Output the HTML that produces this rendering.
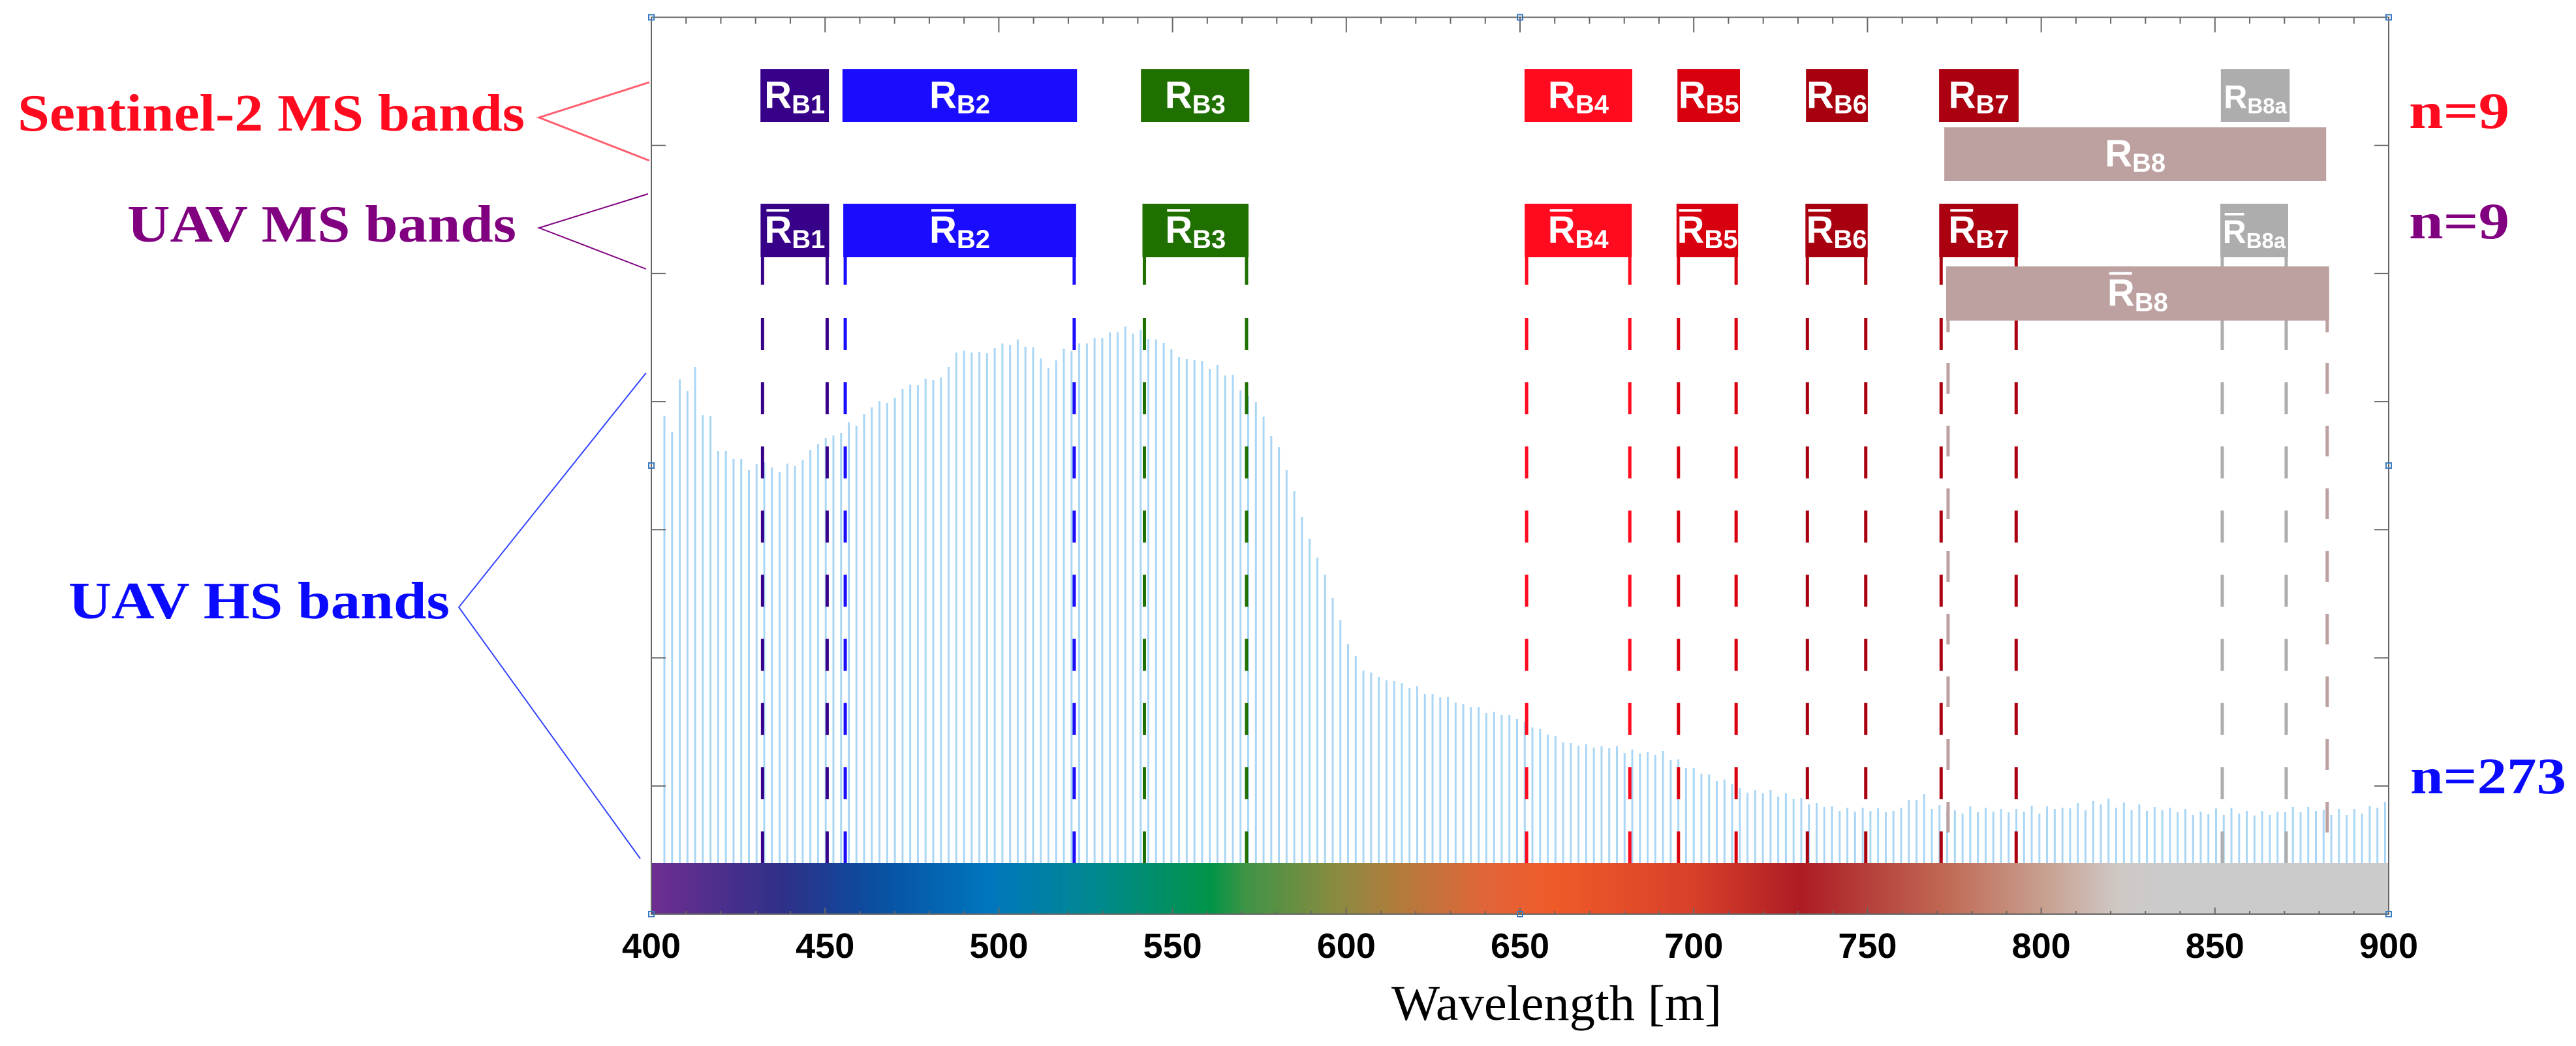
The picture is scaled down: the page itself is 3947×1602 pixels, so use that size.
<!DOCTYPE html>
<html><head><meta charset="utf-8">
<style>
html,body{margin:0;padding:0;background:#fff;}
svg{display:block;}
</style></head>
<body>
<svg id="chart" xmlns="http://www.w3.org/2000/svg" width="3947" height="1602" viewBox="0 0 3947 1602">
<defs>
<linearGradient id="spec" x1="0" x2="1" y1="0" y2="0">
<stop offset="0" stop-color="#6e2e91"/>
<stop offset="0.076" stop-color="#2e3088"/>
<stop offset="0.128" stop-color="#0a4ea0"/>
<stop offset="0.194" stop-color="#0076be"/>
<stop offset="0.254" stop-color="#008890"/>
<stop offset="0.322" stop-color="#009448"/>
<stop offset="0.342" stop-color="#3f9446"/>
<stop offset="0.396" stop-color="#8c8a40"/>
<stop offset="0.428" stop-color="#b07c3c"/>
<stop offset="0.48" stop-color="#e0653a"/>
<stop offset="0.52" stop-color="#f05a28"/>
<stop offset="0.60" stop-color="#d8402a"/>
<stop offset="0.662" stop-color="#ad1c24"/>
<stop offset="0.746" stop-color="#c06a55"/>
<stop offset="0.802" stop-color="#c8a090"/>
<stop offset="0.844" stop-color="#cfc8c4"/>
<stop offset="0.87" stop-color="#cbcbcb"/>
<stop offset="1" stop-color="#cbcbcb"/>
</linearGradient>
</defs>
<g id="bars"></g>
<rect x="998" y="1322" width="2662" height="78" fill="url(#spec)"/>
<g id="axes"></g>
<g id="bands"></g>
<g id="labels">
<text x="27" y="200" font-family="Liberation Serif, serif" font-weight="bold" font-size="80" fill="#ff0a1e" textLength="777" lengthAdjust="spacingAndGlyphs">Sentinel-2 MS bands</text>
<text x="195" y="370" font-family="Liberation Serif, serif" font-weight="bold" font-size="80" fill="#800080" textLength="596" lengthAdjust="spacingAndGlyphs">UAV MS bands</text>
<text x="105" y="947" font-family="Liberation Serif, serif" font-weight="bold" font-size="80" fill="#0a0aff" textLength="584" lengthAdjust="spacingAndGlyphs">UAV HS bands</text>
<polyline points="995,126 826,180 995,246" fill="none" stroke="#ff6070" stroke-width="3"/>
<polyline points="993,297 826,349 990,412" fill="none" stroke="#800080" stroke-width="2"/>
<polyline points="990,571 703,930 981,1315" fill="none" stroke="#3344ff" stroke-width="2"/>
<text x="3691" y="196" font-family="Liberation Serif, serif" font-weight="bold" font-size="78" fill="#ff0a1e" textLength="154" lengthAdjust="spacingAndGlyphs">n=9</text>
<text x="3691" y="365" font-family="Liberation Serif, serif" font-weight="bold" font-size="78" fill="#800080" textLength="154" lengthAdjust="spacingAndGlyphs">n=9</text>
<text x="3693" y="1215" font-family="Liberation Serif, serif" font-weight="bold" font-size="78" fill="#0a0aff" textLength="239" lengthAdjust="spacingAndGlyphs">n=273</text>
<text x="2132" y="1562" font-family="Liberation Serif, serif" font-size="76" fill="#000" textLength="506" lengthAdjust="spacingAndGlyphs">Wavelength [m]</text>
</g>
</svg>
<script>
// ---- data ----
const bandStartNm = 403.76;
const bandStepNm = 2.2107;
const hsValues = [685,660,741,723,760,686,685,631,631,619,619,602,611,614,606,599,612,608,618,633,
642,651,655,659,675,670,688,698,708,705,713,726,733,732,742,740,744,760,782,785,
782,783,781,789,796,794,802,791,790,773,758,770,788,784,796,796,804,804,813,813,
822,811,817,803,802,797,787,775,772,771,769,757,763,747,748,724,716,706,684,654,
637,602,570,530,497,468,442,406,372,336,317,295,292,285,280,279,276,268,271,259,
259,254,255,246,244,239,239,230,232,227,227,221,216,208,206,197,195,185,184,180,
182,177,179,176,179,169,174,168,170,166,172,158,159,146,146,137,136,126,128,121,
115,108,112,107,112,102,107,98,100,90,92,86,87,80,85,79,85,80,84,78,
80,85,97,97,106,83,89,82,81,76,87,78,85,79,83,78,83,79,88,76,
87,83,85,84,92,81,95,90,99,85,93,81,90,80,86,81,85,78,83,74,
79,75,84,74,85,76,80,73,80,74,79,78,86,78,86,80,82,74,83,74,
83,76,88,85,94];
const yMax = 1295.5;
const xTickLabels = ["400","450","500","550","600","650","700","750","800","850","900"];
const msNames = ["B1","B2","B3","B4","B5","B6","B7","B8a","B8"];
const s2Start = [431.4,455.0,540.9,651.3,695.3,732.3,770.6,851.7,772.1];
const s2End   = [451.1,522.5,572.1,682.3,713.3,750.1,793.5,871.5,882.0];
const uavStart = [432.0,455.8,541.9,651.9,695.6,732.7,771.2,852.1,773.2];
const uavEnd   = [450.6,521.7,571.3,681.6,712.2,749.5,792.8,870.5,882.3];
const bandColors = ["#370089","#1a0dff","#1f7000","#ff0a1e","#d8000f","#a8000f","#ab0010","#adadad","#bda0a0"];

// ---- scales ----
const X0=998, X1=3660, YT=26.5, YB=1400, BARBASE=1322;
const xs = nm => X0 + (nm-400)*(X1-X0)/500;
const ys = v => BARBASE - v*(BARBASE-YT)/yMax;
const NS="http://www.w3.org/2000/svg";
function mk(tag, attrs, parent){const e=document.createElementNS(NS,tag);for(const k in attrs)e.setAttribute(k,attrs[k]);parent.appendChild(e);return e;}

// bars
const gb=document.getElementById('bars');
hsValues.forEach((v,i)=>{
  const x=xs(bandStartNm+bandStepNm*i);
  const l=mk('line',{x1:x,x2:x,y1:BARBASE,y2:ys(v),stroke:'#a9d6f5','stroke-width':3},gb);
  
  
});

// axes
const ga=document.getElementById('axes');
const box=mk('rect',{x:X0,y:YT,width:X1-X0,height:YB-YT,fill:'none',stroke:'#666','stroke-width':2},ga);


for(let nm=400;nm<=900;nm+=10){
  const x=xs(nm), major=(nm%50===0), L=major?23:10;
  const t=mk('line',{x1:x,x2:x,y1:YT,y2:YT+L,stroke:'#666','stroke-width':2},ga);
  
  
  const b=mk('line',{x1:x,x2:x,y1:YB,y2:YB-(major?10:5),stroke:'#666','stroke-width':2},ga);
  
  
}
xTickLabels.forEach(s=>{
  const t=mk('text',{x:xs(+s),y:1467,'text-anchor':'middle','font-family':'Liberation Sans, Arial, sans-serif','font-weight':'bold','font-size':54,fill:'#000'},ga);
  t.textContent=s;
  
  
});
for(let k=1;k<7;k++){
  const y=YT+k*196.2;
  const a=mk('line',{x1:X0,x2:X0+22,y1:y,y2:y,stroke:'#666','stroke-width':2},ga);
  
  
  const b=mk('line',{x1:X1,x2:X1-22,y1:y,y2:y,stroke:'#666','stroke-width':2},ga);
  
  
}
[[X0,YT],[X1,YT],[X0,713],[X1,713],[X0,YB],[X1,YB],[xs(650),YT],[xs(650),YB]].forEach(p=>{
  const m=mk('rect',{x:p[0]-4,y:p[1]-4,width:8,height:8,fill:'none',stroke:'#3a7bbf','stroke-width':2},ga);
  
  
});

// band boxes
const gm=document.getElementById('bands');
function label(g,cx,cy,name,bar,small){
  const fs=small?50:58, ss=small?33:40;
  const t=mk('text',{x:cx,y:cy+19,'text-anchor':'middle','font-family':'Liberation Sans, Arial, sans-serif','font-weight':'bold',fill:'#fff','font-size':fs},g);
  const r=document.createElementNS(NS,'tspan');r.textContent='R';t.appendChild(r);
  const s=document.createElementNS(NS,'tspan');s.setAttribute('font-size',ss);s.setAttribute('dy','8');s.textContent=name;t.appendChild(s);
  
  
  if(bar){
    const w=t.getComputedTextLength? t.getComputedTextLength():0;
    const rx=cx-w/2;
    const o=mk('rect',{x:rx+3,y:cy-fs*0.72+19-10,width:fs*0.6,height:4,fill:'#fff'},g);
    
    
  }
}
msNames.forEach((n,i)=>{
  const c=bandColors[i], isB8=(n==='B8'), small=(n==='B8a');
  const y1=isB8?195:106, y2=isB8?277:187;
  const g=mk('g',{},gm);
  
  
  const r=mk('rect',{x:xs(s2Start[i]),y:y1,width:xs(s2End[i])-xs(s2Start[i]),height:y2-y1,fill:c},g);
  
  
  label(g,(xs(s2Start[i])+xs(s2End[i]))/2,(y1+y2)/2,n,false,small);
  const u1=isB8?408:312, u2=isB8?491:394;
  const gu=mk('g',{},gm);
  
  
  const xa=xs(uavStart[i]), xb=xs(uavEnd[i]);
  [xa,xb].forEach(x=>{
    const solidEnd=isB8?509:436, dashStart=isB8?556:487, dash=isB8?'47 49':'49 49.3';
    const s=mk('line',{x1:x,x2:x,y1:u2,y2:solidEnd,stroke:c,'stroke-width':5},gu);
    
    
    const d=mk('line',{x1:x,x2:x,y1:dashStart,y2:BARBASE,stroke:c,'stroke-width':5,'stroke-dasharray':dash},gu);
    
    
  });
  const ru=mk('rect',{x:xa-3,y:u1,width:xb-xa+6,height:u2-u1,fill:c},gu);
  
  
  label(gu,(xa+xb)/2,(u1+u2)/2,n,true,small);
});
</script>
</body></html>
